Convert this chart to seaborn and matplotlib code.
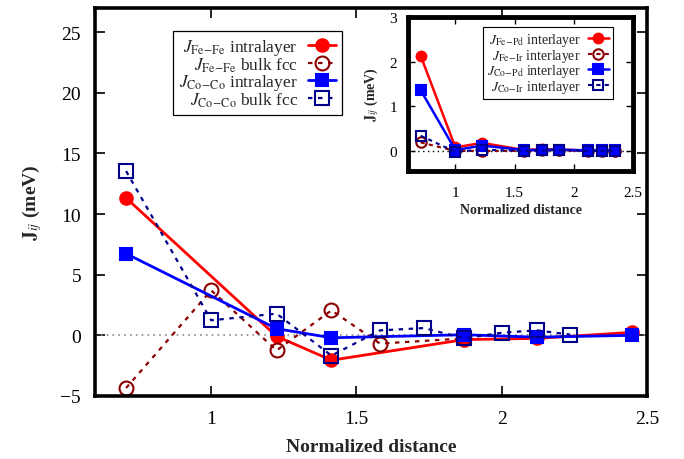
import numpy as np
import pandas as pd
import matplotlib
matplotlib.use("Agg")
import matplotlib.pyplot as plt
import seaborn as sns

# ---------------- data ----------------
x_intra = [0.707, 1.225, 1.414, 1.871, 2.121, 2.449]
fefe_intra = [11.33, -0.08, -2.05, -0.35, -0.25, 0.25]
coco_intra = [6.74, 0.55, -0.2, 0.05, -0.15, 0.0]

x_fe_bulk = [0.707, 1.0, 1.225, 1.414, 1.581, 1.871]
fefe_bulk = [-4.34, 3.71, -1.24, 2.06, -0.68, -0.25]

x_co_bulk = [0.707, 1.0, 1.225, 1.414, 1.581, 1.732, 1.871, 2.0, 2.121, 2.236]
coco_bulk = [13.55, 1.24, 1.79, -1.67, 0.41, 0.6, -0.25, 0.22, 0.41, 0.06]

x_inter = [0.707, 1.0, 1.225, 1.581, 1.732, 1.871, 2.121, 2.236, 2.345]
fepd_inter = [2.13, 0.08, 0.18, 0.02, 0.04, 0.03, 0.01, 0.01, 0.0]
feir_inter = [0.19, 0.0, 0.0, 0.0, 0.01, 0.01, 0.0, 0.0, 0.0]
copd_inter = [1.36, 0.02, 0.12, 0.02, 0.02, 0.03, 0.01, 0.01, 0.01]
coir_inter = [0.34, -0.02, 0.03, 0.0, 0.01, 0.02, 0.0, 0.0, 0.0]

main_xticks = [1, 1.5, 2, 2.5]
main_yticks = [-5, 0, 5, 10, 15, 20, 25]
inset_yticks = [0, 1, 2, 3]

# ---------------- style ----------------
sns.set_theme(style="ticks")
plt.rcParams["font.family"] = ["Liberation Serif", "DejaVu Serif"]
plt.rcParams["mathtext.fontset"] = "stix"

RED = "#ff0000"
DRED = "#8b0000"
BLUE = "#0000ff"
NAVY = "#00008b"

fig = plt.figure(figsize=(6.84, 4.60), dpi=100)
ax = fig.add_axes([0.1389, 0.1370, 0.8070, 0.8435])


def series(axis, xs, ys, color, marker, filled, ls, lw, ms, label):
    df = pd.DataFrame({"x": xs, "y": ys})
    kw = dict(markeredgecolor=color, markeredgewidth=1.5)
    kw["markerfacecolor"] = color if filled else "none"
    sns.lineplot(data=df, x="x", y="y", ax=axis, color=color, marker=marker,
                 linestyle=ls, linewidth=lw, markersize=ms, label=label,
                 sort=False, estimator=None, legend=False, **kw)


def lab(a, b, kind):
    return r"$J_{\mathrm{%s}\!-\!\mathrm{%s}}$ %s" % (a, b, kind)


ax.axhline(0, color="#888888", linestyle=(0, (1, 2.5)), linewidth=1.2, zorder=1)
series(ax, x_intra, fefe_intra, RED, "o", True, "-", 2.0, 9, lab("Fe", "Fe", "intralayer"))
series(ax, x_fe_bulk, fefe_bulk, DRED, "o", False, (0, (2, 2.5)), 1.6, 10, lab("Fe", "Fe", "bulk fcc"))
series(ax, x_intra, coco_intra, BLUE, "s", True, "-", 2.0, 9, lab("Co", "Co", "intralayer"))
series(ax, x_co_bulk, coco_bulk, NAVY, "s", False, (0, (2, 2.5)), 1.6, 10, lab("Co", "Co", "bulk fcc"))

ax.set_xlim(0.6, 2.5)
ax.set_ylim(-5, 27)
ax.set_xticks(main_xticks)
ax.set_xticklabels(["1", "1.5", "2", "2.5"])
ax.set_yticks(main_yticks)
ax.set_yticklabels(["\u22125" if v < 0 else str(v) for v in main_yticks])
ax.tick_params(direction="in", length=7, width=1.2, top=True, right=True,
               labelsize=14, pad=10, colors="black")
for s in ax.spines.values():
    s.set_linewidth(2.6)
    s.set_color("black")
ax.set_xlabel("Normalized distance", fontsize=14, fontweight="bold", labelpad=8)
ax.set_ylabel(r"$\mathbf{J}_{ij}$ (meV)", fontsize=14, fontweight="bold", labelpad=12)

leg = ax.legend(loc="upper left", bbox_to_anchor=(0.1416, 0.941), markerfirst=False,
                fontsize=12.5, frameon=True, fancybox=False, framealpha=1,
                edgecolor="black", handlelength=1.6, handletextpad=0.6,
                labelspacing=-0.1, borderpad=0.35, borderaxespad=0)
leg.get_frame().set_linewidth(0.9)

# ---------------- inset ----------------
ins = fig.add_axes([0.5965, 0.626, 0.329, 0.335])
ins.axhline(0, color="black", linestyle=(0, (1, 2.5)), linewidth=1.0, zorder=1)
series(ins, x_inter, fepd_inter, RED, "o", True, "-", 1.8, 7, lab("Fe", "Pd", "interlayer"))
series(ins, x_inter, feir_inter, DRED, "o", False, (0, (2, 2)), 1.5, 7.5, lab("Fe", "Ir", "interlayer"))
series(ins, x_inter, copd_inter, BLUE, "s", True, "-", 1.8, 7, lab("Co", "Pd", "interlayer"))
series(ins, x_inter, coir_inter, NAVY, "s", False, (0, (2, 2)), 1.5, 7.5, lab("Co", "Ir", "interlayer"))
ins.set_xlim(0.6, 2.5)
ins.set_ylim(-0.45, 3)
ins.set_xticks(main_xticks)
ins.set_xticklabels(["1", "1.5", "2", "2.5"])
ins.set_yticks(inset_yticks)
ins.tick_params(direction="in", length=5, width=1.0, top=True, right=True,
                labelsize=11, colors="black")
ins.tick_params(axis="x", pad=11)
ins.tick_params(axis="y", pad=8)
for s in ins.spines.values():
    s.set_linewidth(3.5)
    s.set_color("black")
ins.set_xlabel("Normalized distance", fontsize=10, fontweight="bold", labelpad=3)
ins.set_ylabel(r"$\mathbf{J}_{ij}$ (meV)", fontsize=10, fontweight="bold", labelpad=6)
leg2 = ins.legend(loc="upper right", bbox_to_anchor=(0.911, 0.935), markerfirst=False,
                  fontsize=10, frameon=True, fancybox=False, framealpha=1,
                  edgecolor="black", handlelength=1.5, handletextpad=0.5,
                  labelspacing=-0.1, borderpad=0.3, borderaxespad=0)
leg2.get_frame().set_linewidth(0.8)

fig.savefig("out.png", dpi=100)
